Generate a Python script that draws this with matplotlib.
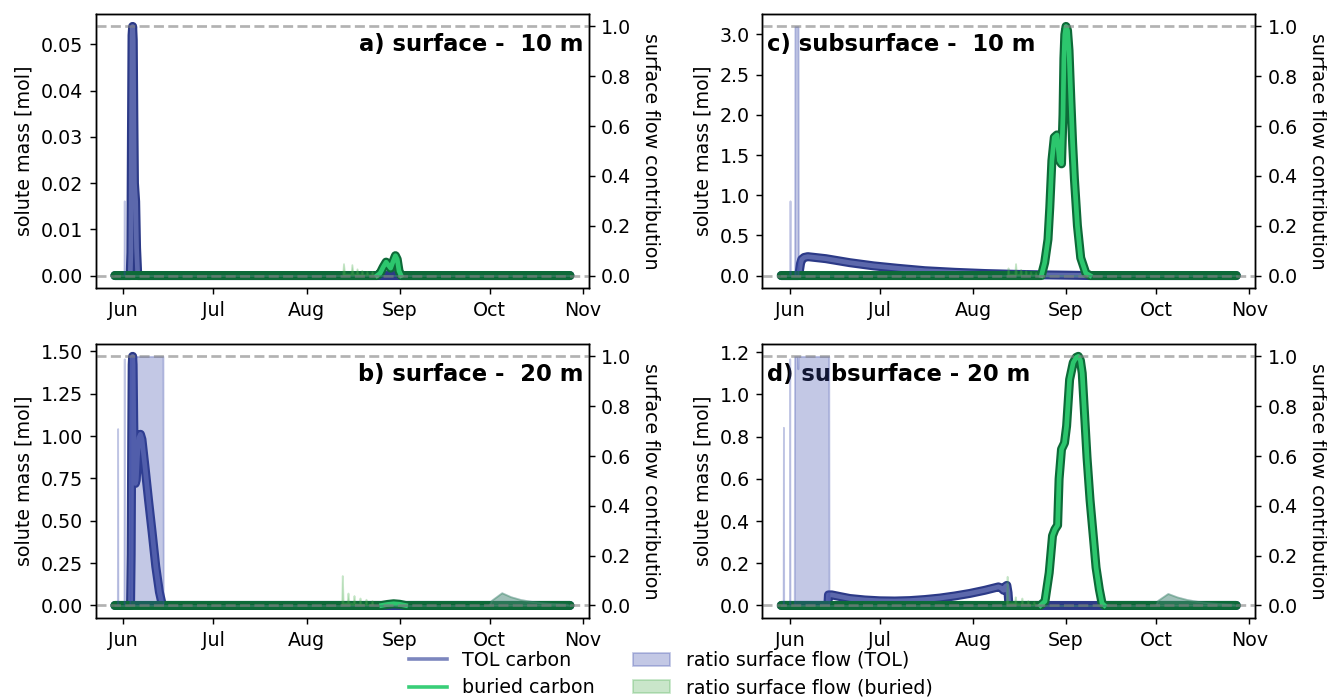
import numpy as np
import pandas as pd
import matplotlib
matplotlib.use("Agg")
import matplotlib.pyplot as plt
import matplotlib.dates as mdates
from matplotlib.lines import Line2D
from matplotlib.patches import Patch

plt.rcParams["font.size"] = 10.5

START = pd.Timestamp("2019-06-01")
T0, T1 = -2.8, 148.7   # first / last model day, in days since 1 June

# ---- a) surface, 10 m -------------------------------------------------
a_tol_t = [T0, 2.3, 2.5, 2.7, 2.9, 3.1, 3.3, 3.5, 3.7, 3.9, 4.1, 4.4, 4.8, T1]
a_tol = [0, 0, 0.005, 0.03, 0.052, 0.0539, 0.051, 0.034, 0.02, 0.018, 0.016, 0.006, 0, 0]
a_bur_t = [T0, 84.5, 85.5, 86.5, 87.5, 88.3, 89.0, 89.8, 90.6, 91.2, 91.8, 92.5, T1]
a_bur = [0, 0, 0.0005, 0.0018, 0.0029, 0.0022, 0.0016, 0.003, 0.0043, 0.0035, 0.001, 0, 0]
a_rtol_t = [T0, 0.2, 0.3, 0.4, T1]
a_rtol = [0, 0, 0.30, 0, 0]
a_rbur_t = [T0, 73.0, 73.3, 73.7, 75.8, 76.1, 76.5, 77.5, 77.8, 78.2, 79.1, 79.4, 79.8,
            80.8, 81.1, 81.5, 82.5, 82.8, 83.3, T1]
a_rbur = [0, 0, 0.048, 0.006, 0.006, 0.044, 0.006, 0.005, 0.027, 0.005, 0.004, 0.021, 0.004,
          0.003, 0.017, 0.003, 0.003, 0.017, 0, 0]

# ---- b) surface, 20 m -------------------------------------------------
b_tol_t = [T0, 2.4, 2.6, 2.8, 2.95, 3.1, 3.25, 3.45, 3.7, 4.0, 4.3, 4.7, 5.2, 5.7, 6.2,
           7.2, 8.4, 9.6, 10.8, 12.0, 13.0, T1]
b_tol = [0, 0, 0.3, 1.0, 1.42, 1.47, 1.42, 1.1, 0.8, 0.72, 0.74, 0.88, 0.99, 1.01, 0.98,
         0.82, 0.62, 0.43, 0.23, 0.08, 0, 0]
b_bur_t = [T0, 86, 88, 90, 92, 94, T1]
b_bur = [0, 0, 0.006, 0.01, 0.007, 0, 0]
b_rtol_t = [T0, -2.0, -1.9, -1.8, 0.2, 0.3, 0.4, 2.1, 2.2, 13.2, 13.3,
            121.8, 122.5, 126.0, 129.0, 132.2, 135.5, 138.9, 143.0, 147.8, T1]
b_rtol = [0, 0, 0.71, 0, 0, 0.99, 0, 0, 1.0, 1.0, 0,
          0, 0.02, 0.051, 0.035, 0.024, 0.017, 0.012, 0.008, 0.005, 0]
b_rbur_t = [T0, 72.7, 72.9, 73.2, 74.5, 74.8, 75.1, 76.5, 76.8, 77.1, 78.5, 78.8, 79.1,
            80.5, 80.8, 81.1, 82.5, 82.8, 83.2,
            121.8, 122.5, 126.0, 129.0, 132.2, 135.5, 138.9, 143.0, 147.8, T1]
b_rbur = [0, 0, 0.12, 0.01, 0.01, 0.05, 0.01, 0.008, 0.04, 0.008, 0.005, 0.03, 0.005,
          0.004, 0.025, 0.004, 0.003, 0.02, 0,
          0, 0.02, 0.051, 0.035, 0.024, 0.017, 0.012, 0.008, 0.005, 0]

# ---- c) subsurface, 10 m ----------------------------------------------
c_tol_t = [T0, 2.8, 3.2, 3.6, 4.0, 4.8, 6.0, 12, 20, 28, 36, 45, 55, 65, 75, 85, 95, 100, T1]
c_tol = [0, 0, 0.05, 0.15, 0.2, 0.225, 0.235, 0.21, 0.16, 0.12, 0.09, 0.06, 0.04, 0.025,
         0.015, 0.008, 0.003, 0, 0]
c_bur_t = [T0, 83.8, 84.9, 86.0, 86.6, 87.3, 88.1, 89.0, 89.8, 90.5, 91.0, 91.3, 91.6, 92.0,
           92.5, 93.0, 93.6, 94.2, 94.8, 95.8, 96.9, 98.6, 100, T1]
c_bur = [0, 0, 0.16, 0.45, 0.85, 1.43, 1.72, 1.75, 1.43, 1.39, 2.0, 2.7, 3.0, 3.10,
         3.05, 2.8, 2.2, 1.65, 1.2, 0.62, 0.22, 0.03, 0, 0]
c_rtol_t = [T0, 0.0, 0.1, 0.2, 1.6, 1.7, 2.8, 2.9, T1]
c_rtol = [0, 0, 0.30, 0, 0, 1.0, 1.0, 0, 0]
c_rbur_t = [T0, 72.4, 72.7, 73.0, 74.9, 75.2, 75.5, 76.6, 76.9, 77.2, 78.3, 78.6, 78.9,
            79.9, 80.2, 80.5, 81.6, 81.9, 82.3, T1]
c_rbur = [0, 0, 0.031, 0.005, 0.005, 0.048, 0.005, 0.005, 0.025, 0.004, 0.004, 0.02, 0.004,
          0.003, 0.015, 0.003, 0.003, 0.012, 0, 0]

# ---- d) subsurface, 20 m ----------------------------------------------
d_tol_t = [T0, 12.7, 12.9, 14, 16.4, 20, 25, 30, 35, 40, 45, 50, 55, 60, 65, 69.5, 70.5,
           71.2, 71.8, 72.3, 72.7, 73.0, T1]
d_tol = [0, 0, 0.05, 0.05, 0.043, 0.033, 0.026, 0.022, 0.021, 0.023, 0.028, 0.035, 0.045,
         0.057, 0.072, 0.088, 0.082, 0.072, 0.09, 0.095, 0.06, 0, 0]
d_bur_t = [T0, 83.5, 85, 86.4, 87.5, 88.3, 89.2, 89.7, 90.5, 91.5, 92.2, 93.2, 94.4, 95.4, 96.1,
           96.8, 97.4, 98.2, 99, 100, 101.2, 102, 103.1, 104, 104.8, T1]
d_bur = [0, 0, 0.02, 0.155, 0.33, 0.36, 0.38, 0.6, 0.74, 0.77, 0.85, 1.07, 1.15, 1.175, 1.18,
         1.16, 1.1, 0.9, 0.7, 0.5, 0.31, 0.18, 0.076, 0.01, 0, 0]
d_rtol_t = [T0, -2.2, -2.1, -2.0, -0.1, 0.0, 0.1, 1.5, 1.6, 2.6, 2.7, 2.8, 13.0, 13.1,
            121.8, 122.5, 125.9, 129.0, 132.2, 135.5, 138.9, 143.0, 147.8, T1]
d_rtol = [0, 0, 0.715, 0, 0, 0.99, 0, 0, 1.0, 1.0, 0.95, 1.0, 1.0, 0,
          0, 0.02, 0.048, 0.034, 0.024, 0.017, 0.012, 0.008, 0.005, 0]
d_rbur_t = [T0, 72.1, 72.4, 72.7, 74.8, 75.1, 75.4, 77.0, 77.3, 77.6, 79.0, 79.3, 79.6,
            81.0, 81.3, 81.6, 83.0,
            121.8, 122.5, 125.9, 129.0, 132.2, 135.5, 138.9, 143.0, 147.8, T1]
d_rbur = [0, 0, 0.117, 0.01, 0.01, 0.035, 0.008, 0.006, 0.03, 0.006, 0.005, 0.02, 0.004,
          0.004, 0.015, 0.003, 0,
          0, 0.02, 0.048, 0.034, 0.024, 0.017, 0.012, 0.008, 0.005, 0]

panels = [
    ("a) surface -  10 m", "right", (a_tol_t, a_tol), (a_bur_t, a_bur), (a_rtol_t, a_rtol), (a_rbur_t, a_rbur)),
    ("c) subsurface -  10 m", "left", (c_tol_t, c_tol), (c_bur_t, c_bur), (c_rtol_t, c_rtol), (c_rbur_t, c_rbur)),
    ("b) surface -  20 m", "right", (b_tol_t, b_tol), (b_bur_t, b_bur), (b_rtol_t, b_rtol), (b_rbur_t, b_rbur)),
    ("d) subsurface - 20 m", "left", (d_tol_t, d_tol), (d_bur_t, d_bur), (d_rtol_t, d_rtol), (d_rbur_t, d_rbur)),
]

TOL_DARK, TOL_LIGHT = "#2c3a87", "#6571b3"
BUR_DARK, BUR_LIGHT = "#0d6a38", "#2ecc71"
TOL_FILL, BUR_FILL = "#3949ab", "#4caf50"


def to_dates(days):
    return START + pd.to_timedelta(np.asarray(days, dtype=float), unit="D")


def outlined(ax, t, v, dark, light, alpha):
    # dark outline everywhere, lighter core only where there is mass
    v = np.asarray(v, dtype=float)
    core = v.copy()
    nz = v > 0
    keep = nz | np.roll(nz, 1) | np.roll(nz, -1)
    core[~keep] = np.nan
    ax.plot(to_dates(t), v, color=dark, lw=5, solid_capstyle="round")
    ax.plot(to_dates(t), core, color=light, lw=2.6, alpha=alpha)


fig, axes = plt.subplots(2, 2, figsize=(10.215, 5.377), dpi=130)
fig.subplots_adjust(left=0.0723, right=0.945, top=0.98, bottom=0.116, wspace=0.353, hspace=0.204)

for ax, (title, side, tol, bur, rtol, rbur) in zip(axes.flat, panels):
    outlined(ax, tol[0], tol[1], TOL_DARK, TOL_LIGHT, 0.85)
    outlined(ax, bur[0], bur[1], BUR_DARK, BUR_LIGHT, 0.95)

    top = max(max(tol[1]), max(bur[1]))
    ax.set_ylim(-0.05 * top, 1.05 * top)
    ax.set_ylabel("solute mass [mol]")

    ax2 = ax.twinx()
    ax2.fill_between(to_dates(rtol[0]), rtol[1], color=TOL_FILL, alpha=0.3)
    ax2.fill_between(to_dates(rbur[0]), rbur[1], color=BUR_FILL, alpha=0.3)
    ax2.axhline(0, color="grey", ls="--", lw=1.5, alpha=0.6)
    ax2.axhline(1, color="grey", ls="--", lw=1.5, alpha=0.6)
    ax2.set_ylim(-0.05, 1.05)
    ax2.set_ylabel("surface flow contribution", rotation=270, labelpad=16)

    ax.set_xlim(START + pd.Timedelta(days=-9.1), START + pd.Timedelta(days=154.9))
    ax.xaxis.set_major_locator(mdates.MonthLocator())
    ax.xaxis.set_major_formatter(mdates.DateFormatter("%b"))

    if side == "right":
        ax.text(0.99, 0.93, title, transform=ax.transAxes, ha="right", va="top",
                fontsize=12.5, fontweight="bold")
    else:
        ax.text(0.01, 0.93, title, transform=ax.transAxes, ha="left", va="top",
                fontsize=12.5, fontweight="bold")

handles = [
    Line2D([], [], color=TOL_LIGHT, lw=2, alpha=0.85),
    Line2D([], [], color=BUR_LIGHT, lw=2, alpha=0.95),
    Patch(facecolor=TOL_FILL, edgecolor=TOL_FILL, alpha=0.3),
    Patch(facecolor=BUR_FILL, edgecolor=BUR_FILL, alpha=0.3),
]
labels = ["TOL carbon", "buried carbon", "ratio surface flow (TOL)", "ratio surface flow (buried)"]
fig.legend(handles, labels, loc="lower center", ncol=2, frameon=False,
           bbox_to_anchor=(0.505, -0.022), columnspacing=2.0, labelspacing=0.45)

fig.savefig("out.png", dpi=130)
